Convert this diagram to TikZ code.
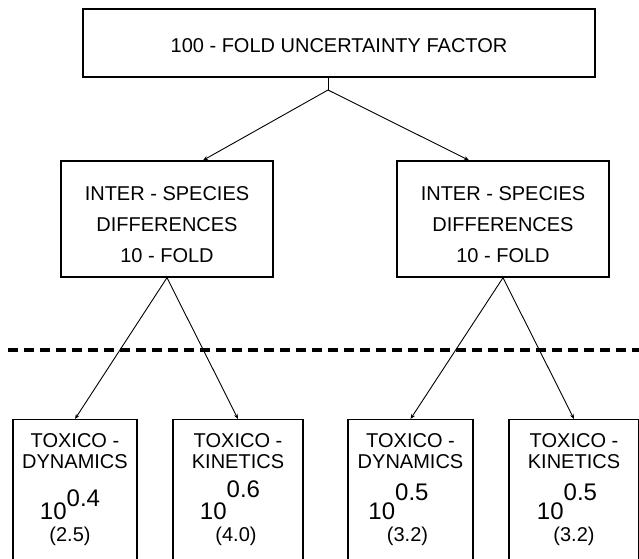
\documentclass[tikz,border=0pt]{standalone}
\usepackage{fontspec}
\setmainfont{Liberation Sans}
\usetikzlibrary{arrows.meta,positioning}

\begin{document}
\begin{tikzpicture}[x=1pt,y=-1pt,
  font=\fontsize{20}{21}\selectfont,
  box/.style={draw,line width=1.4pt,inner sep=0pt,align=center},
  lowbox/.style={draw,line width=1.4pt,inner sep=0pt,minimum height=170pt,anchor=north},
  arr/.style={-{Stealth[length=5pt,width=4pt]},line width=0.9pt}]

\useasboundingbox (0,0) rectangle (639,558);
\clip (0,0) rectangle (639,558);

%Fattore 100

\node[box,minimum width=512pt,minimum height=68pt] (top) at (339,43)
  {\rule{0pt}{20pt}100 - FOLD UNCERTAINTY FACTOR};

\node[box,minimum width=212pt,minimum height=116pt,
  font=\fontsize{20}{31}\selectfont] (inter1) at (167,219)
  {\rule{0pt}{26pt}INTER - SPECIES\\DIFFERENCES\\10 - FOLD};
\node[box,minimum width=212pt,minimum height=116pt,
  font=\fontsize{20}{31}\selectfont] (inter2) at (503,219)
  {\rule{0pt}{26pt}INTER - SPECIES\\DIFFERENCES\\10 - FOLD};

%Fattori 10

\foreach \n/\x/\w/\kind/\e/\r/\dx/\v/\dv in
  {tdyn1/75/124/DYNAMICS/0.4/13/-5/2.5/-5,
   tkin1/238/130/KINETICS/0.6/22/-8/4.0/-2,
   tdyn2/410.5/125/DYNAMICS/0.5/19/-12/3.2/-3,
   tkin2/574/130/KINETICS/0.5/19/-7/3.2/0}
{
  \node[lowbox,minimum width=\w pt] (\n) at (\x,419) {};
  \node at ([yshift=-22pt]\n.north) {TOXICO -};
  \node at ([yshift=-43pt]\n.north) {\kind};
  \node[anchor=base,font=\fontsize{24}{24}\selectfont]
    at ([xshift=\dx pt,yshift=-100pt]\n.north) {10\raisebox{\r pt}{\e}};
  \node at ([xshift=\dv pt,yshift=-117pt]\n.north) {(\v)};
}

\draw[line width=4pt,dash pattern=on 10pt off 6pt] (8,350) -- (639,350);

\coordinate (split) at (328,90);
\draw[line width=1pt] ([xshift=-11pt]top.south) -- (split);
\draw[arr] (split) -- ([xshift=36pt]inter1.north);
\draw[arr] (split) -- ([xshift=-34pt]inter2.north);

\draw[arr] (inter1.south) -- (tdyn1.north);
\draw[arr] (inter1.south) -- (tkin1.north);
\draw[arr] (inter2.south) -- (tdyn2.north);
\draw[arr] (inter2.south) -- (tkin2.north);

\end{tikzpicture}
\end{document}
